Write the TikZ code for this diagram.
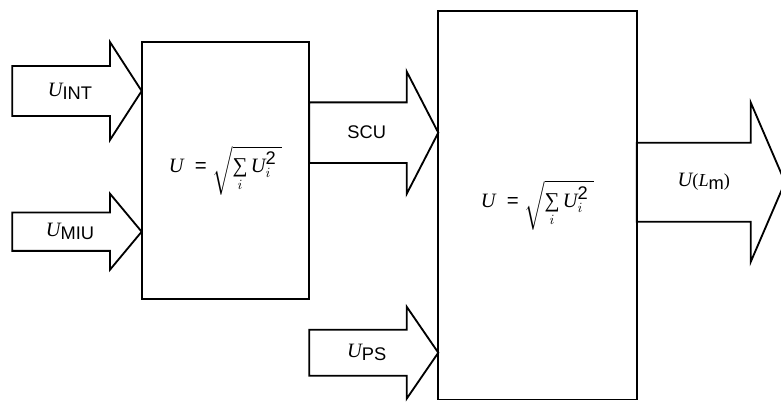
\documentclass[tikz,border=0pt]{standalone}
\usepackage{amsmath}
\usepackage{fontspec}
\setmainfont{Liberation Serif}
\setsansfont{Liberation Sans}
\usetikzlibrary{calc}

% fat arrow: tail, tip, shaft half height, head half height, head length
\newcommand{\fatarrow}[5]{%
  \draw[blockarrow] ($(#1)+(0,-#3)$) -- ($(#2)+(-#5,-#3)$) -- ($(#2)+(-#5,-#4)$) -- (#2)
    -- ($(#2)+(-#5,#4)$) -- ($(#2)+(-#5,#3)$) -- ($(#1)+(0,#3)$) -- cycle;}
\newcommand{\varU}{\mbox{\fontsize{14.5}{17}\selectfont\itshape U}}
\newcommand{\sumformula}{\fontsize{14.5}{17}\selectfont
  $\varU\;\mathrel{\textsf{=}}\sqrt{\mathop{\mbox{\fontsize{15}{17}\selectfont ∑}}\limits_{i}\varU_{i}^{\mbox{\fontsize{13}{15}\selectfont\sffamily 2}}\;}$}

\begin{document}
\begin{tikzpicture}[
  x=0.025cm, y=-0.025cm,
  every node/.style={font=\fontsize{13}{15}\selectfont},
  sumbox/.style={rectangle, draw, line width=1.3pt, outer sep=0pt, align=center},
  blockarrow/.style={line width=1.3pt, line join=miter},
  lbl/.style={inner sep=1pt}
]
\clip (0,0) rectangle (781,401);

% Nodes
\node[sumbox, minimum width=4.19cm, minimum height=6.44cm] (sumA) at (225.5,170.5) {\sumformula};
\node[sumbox, minimum width=4.96cm, minimum height=9.71cm] (sumB) at (537.5,205.2) {\sumformula};

\coordinate (intIn) at (12.3,91);
\coordinate (intTip) at (sumA.west |- intIn);
\coordinate (miuIn) at (12.3,231.7);
\coordinate (miuTip) at (sumA.west |- miuIn);
\coordinate (scuIn) at ($(sumA.east)+(0,-37.8)$);
\coordinate (scuTip) at (sumB.west |- scuIn);
\coordinate (psIn) at (309.3,352.7);
\coordinate (psTip) at (sumB.west |- psIn);
\coordinate (outIn) at ($(sumB.east)+(0,-23)$);
\coordinate (outTip) at ($(outIn)+(148.3,0)$);

% Arrows
\fatarrow{intIn}{intTip}{25}{49}{31.7}
\fatarrow{miuIn}{miuTip}{19.2}{38}{31.7}
\fatarrow{scuIn}{scuTip}{30.3}{61.2}{31.6}
\fatarrow{psIn}{psTip}{23}{46}{31.6}
\fatarrow{outIn}{outTip}{39.5}{79.7}{34.3}

% Labels
\node[lbl, xshift=-5pt] (intLbl) at ($(intIn)!0.5!(intTip)$) {\varU\raisebox{-0.35ex}{\sffamily INT}};
\node[lbl, xshift=-5pt] (miuLbl) at ($(miuIn)!0.5!(miuTip)$) {\varU\raisebox{-0.35ex}{\sffamily MIU}};
\node[lbl, xshift=-5pt] (scuLbl) at ($(scuIn)!0.5!(scuTip)$) {\sffamily SCU};
\node[lbl, xshift=-5pt] (psLbl) at ($(psIn)!0.5!(psTip)$) {\varU\raisebox{-0.35ex}{\sffamily PS}};
\node[lbl, xshift=-5pt] (outLbl) at ($(outIn)!0.5!(outTip)$) {\varU(\textit{L}\raisebox{-0.35ex}{\sffamily m})};

\end{tikzpicture}
\end{document}
